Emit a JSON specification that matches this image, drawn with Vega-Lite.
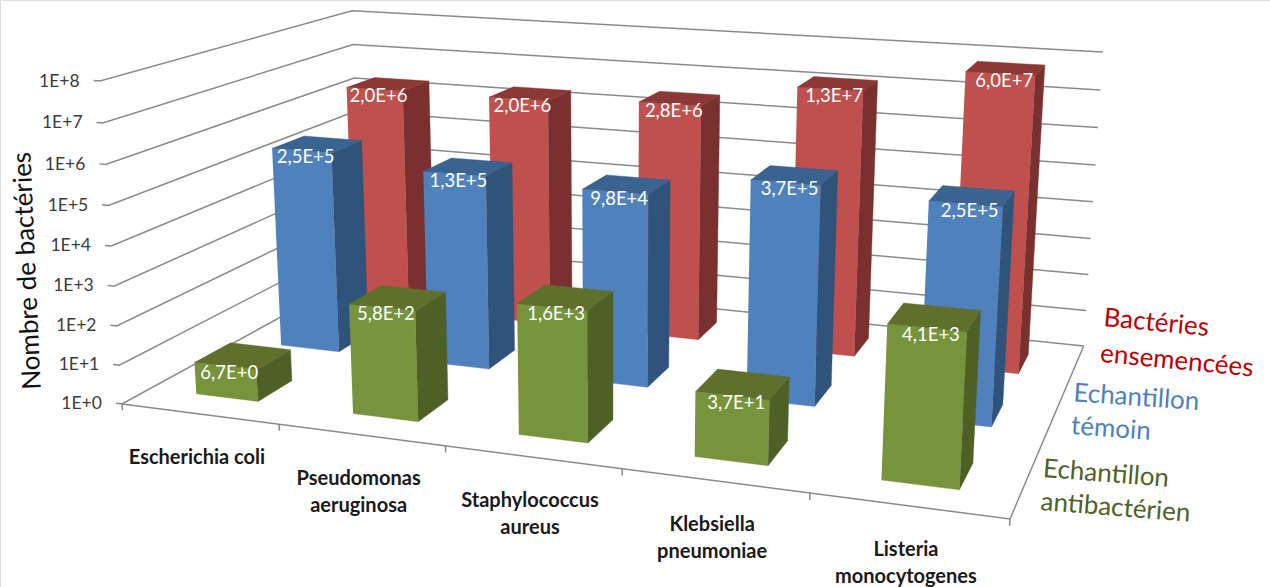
{
  "$schema": "https://vega.github.io/schema/vega-lite/v6.json",
  "width": 1270,
  "height": 587,
  "padding": 0,
  "autosize": {"type": "none"},
  "background": "white",
  "datasets": {
    "barres": [
      {"espece": "Escherichia coli", "serie": "Bactéries ensemencées", "valeur": 2.0e6, "etiquette": "2,0E+6"},
      {"espece": "Pseudomonas aeruginosa", "serie": "Bactéries ensemencées", "valeur": 2.0e6, "etiquette": "2,0E+6"},
      {"espece": "Staphylococcus aureus", "serie": "Bactéries ensemencées", "valeur": 2.8e6, "etiquette": "2,8E+6"},
      {"espece": "Klebsiella pneumoniae", "serie": "Bactéries ensemencées", "valeur": 1.3e7, "etiquette": "1,3E+7"},
      {"espece": "Listeria monocytogenes", "serie": "Bactéries ensemencées", "valeur": 6.0e7, "etiquette": "6,0E+7"},
      {"espece": "Escherichia coli", "serie": "Echantillon témoin", "valeur": 2.5e5, "etiquette": "2,5E+5"},
      {"espece": "Pseudomonas aeruginosa", "serie": "Echantillon témoin", "valeur": 1.3e5, "etiquette": "1,3E+5"},
      {"espece": "Staphylococcus aureus", "serie": "Echantillon témoin", "valeur": 9.8e4, "etiquette": "9,8E+4"},
      {"espece": "Klebsiella pneumoniae", "serie": "Echantillon témoin", "valeur": 3.7e5, "etiquette": "3,7E+5"},
      {"espece": "Listeria monocytogenes", "serie": "Echantillon témoin", "valeur": 2.5e5, "etiquette": "2,5E+5"},
      {"espece": "Escherichia coli", "serie": "Echantillon antibactérien", "valeur": 6.7e0, "etiquette": "6,7E+0"},
      {"espece": "Pseudomonas aeruginosa", "serie": "Echantillon antibactérien", "valeur": 5.8e2, "etiquette": "5,8E+2"},
      {"espece": "Staphylococcus aureus", "serie": "Echantillon antibactérien", "valeur": 1.6e3, "etiquette": "1,6E+3"},
      {"espece": "Klebsiella pneumoniae", "serie": "Echantillon antibactérien", "valeur": 3.7e1, "etiquette": "3,7E+1"},
      {"espece": "Listeria monocytogenes", "serie": "Echantillon antibactérien", "valeur": 4.1e3, "etiquette": "4,1E+3"}
    ],
    "decades": [
      {"decade": 0, "libelle": "1E+0"},
      {"decade": 1, "libelle": "1E+1"},
      {"decade": 2, "libelle": "1E+2"},
      {"decade": 3, "libelle": "1E+3"},
      {"decade": 4, "libelle": "1E+4"},
      {"decade": 5, "libelle": "1E+5"},
      {"decade": 6, "libelle": "1E+6"},
      {"decade": 7, "libelle": "1E+7"},
      {"decade": 8, "libelle": "1E+8"}
    ],
    "especes": [
      {"rang": 0, "libelle": "Escherichia coli"},
      {"rang": 1, "libelle": "Pseudomonas\naeruginosa"},
      {"rang": 2, "libelle": "Staphylococcus\naureus"},
      {"rang": 3, "libelle": "Klebsiella\npneumoniae"},
      {"rang": 4, "libelle": "Listeria\nmonocytogenes"}
    ],
    "graduations": [
      {"repere": 0}, {"repere": 1}, {"repere": 2}, {"repere": 3}, {"repere": 4}, {"repere": 5}
    ],
    "series": [
      {"serie": "Bactéries ensemencées", "rang": 2, "libelle": "Bactéries\nensemencées"},
      {"serie": "Echantillon témoin", "rang": 1, "libelle": "Echantillon\ntémoin"},
      {"serie": "Echantillon antibactérien", "rang": 0, "libelle": "Echantillon\nantibactérien"}
    ]
  },
  "encoding": {
    "x": {"field": "ex", "type": "quantitative", "scale": {"domain": [0, 1270], "nice": false, "zero": false}, "axis": null},
    "y": {
      "field": "ey",
      "type": "quantitative",
      "scale": {"domain": [587, 0], "nice": false, "zero": false},
      "title": "Nombre de bactéries",
      "axis": {
        "domain": false, "ticks": false, "labels": false, "grid": false,
        "titleFont": "Lato", "titleFontSize": 26, "titleFontWeight": "normal", "titleColor": "#111111",
        "titleX": 35, "titleY": 270, "titleAngle": 267.5, "titleAlign": "center", "titleBaseline": "alphabetic"
      }
    }
  },
  "layer": [
    {
      "description": "Quadrillage des parois : une polyligne par décade",
      "data": {"name": "decades"},
      "transform": [
        {"calculate": "datum.decade/8", "as": "h"},
        {"calculate": "[[0,-0.008,datum.h,0],[1,0,datum.h,0],[2,0,datum.h,1],[3,1,datum.h,1]]", "as": "sommets"},
        {"flatten": ["sommets"]},
        {"calculate": "datum.sommets[0]", "as": "n"},
        {"calculate": "datum.sommets[1]", "as": "X"},
        {"calculate": "datum.sommets[2]", "as": "Y"},
        {"calculate": "datum.sommets[3]", "as": "Z"},
        {"calculate": "(122+746.4*datum.X-26.3*datum.Y+326.7*datum.Z)/(1-0.1402*datum.X-0.0429*datum.Y+0.243*datum.Z)", "as": "ex"},
        {"calculate": "(404+42.2*datum.X-326.5*datum.Y-64.7*datum.Z)/(1-0.1402*datum.X-0.0429*datum.Y+0.243*datum.Z)", "as": "ey"}
      ],
      "mark": {"type": "line", "stroke": "#8a8a8a", "strokeWidth": 1.5},
      "encoding": {
        "detail": {"field": "decade", "type": "nominal"},
        "order": {"field": "n", "type": "quantitative"}
      }
    },
    {
      "description": "Bords avant et droit du sol",
      "data": {"values": [{"trait": "sol"}]},
      "transform": [
        {"calculate": "[[0,0,0,0],[1,1,0,0],[2,1,0,1]]", "as": "sommets"},
        {"flatten": ["sommets"]},
        {"calculate": "datum.sommets[0]", "as": "n"},
        {"calculate": "datum.sommets[1]", "as": "X"},
        {"calculate": "datum.sommets[2]", "as": "Y"},
        {"calculate": "datum.sommets[3]", "as": "Z"},
        {"calculate": "(122+746.4*datum.X-26.3*datum.Y+326.7*datum.Z)/(1-0.1402*datum.X-0.0429*datum.Y+0.243*datum.Z)", "as": "ex"},
        {"calculate": "(404+42.2*datum.X-326.5*datum.Y-64.7*datum.Z)/(1-0.1402*datum.X-0.0429*datum.Y+0.243*datum.Z)", "as": "ey"}
      ],
      "mark": {"type": "line", "stroke": "#8a8a8a", "strokeWidth": 1.5},
      "encoding": {"order": {"field": "n", "type": "quantitative"}}
    },
    {
      "description": "Graduations entre les espèces",
      "data": {"name": "graduations"},
      "transform": [
        {"calculate": "[[0,datum.repere/5,0,0],[1,datum.repere/5,-0.02,0]]", "as": "sommets"},
        {"flatten": ["sommets"]},
        {"calculate": "datum.sommets[0]", "as": "n"},
        {"calculate": "datum.sommets[1]", "as": "X"},
        {"calculate": "datum.sommets[2]", "as": "Y"},
        {"calculate": "datum.sommets[3]", "as": "Z"},
        {"calculate": "(122+746.4*datum.X-26.3*datum.Y+326.7*datum.Z)/(1-0.1402*datum.X-0.0429*datum.Y+0.243*datum.Z)", "as": "ex"},
        {"calculate": "(404+42.2*datum.X-326.5*datum.Y-64.7*datum.Z)/(1-0.1402*datum.X-0.0429*datum.Y+0.243*datum.Z)", "as": "ey"}
      ],
      "mark": {"type": "line", "stroke": "#8a8a8a", "strokeWidth": 1.5},
      "encoding": {
        "detail": {"field": "repere", "type": "nominal"},
        "order": {"field": "n", "type": "quantitative"}
      }
    },
    {
      "description": "Barres : trois faces visibles, de la rangée du fond vers l'avant",
      "data": {"name": "barres"},
      "transform": [
        {"calculate": "indexof(['Escherichia coli','Pseudomonas aeruginosa','Staphylococcus aureus','Klebsiella pneumoniae','Listeria monocytogenes'],datum.espece)", "as": "rang"},
        {"calculate": "indexof(['Echantillon antibactérien','Echantillon témoin','Bactéries ensemencées'],datum.serie)", "as": "profondeur"},
        {"calculate": "(datum.rang+0.3)/5", "as": "x0"},
        {"calculate": "(datum.rang+0.7)/5", "as": "x1"},
        {"calculate": "(datum.profondeur+0.3)/3", "as": "z0"},
        {"calculate": "(datum.profondeur+0.7)/3", "as": "z1"},
        {"calculate": "log(datum.valeur)/LN10/8", "as": "h"},
        {"calculate": "[['1 avant',0,datum.x0,0,datum.z0],['1 avant',1,datum.x1,0,datum.z0],['1 avant',2,datum.x1,datum.h,datum.z0],['1 avant',3,datum.x0,datum.h,datum.z0],['2 cote',0,datum.x1,0,datum.z0],['2 cote',1,datum.x1,0,datum.z1],['2 cote',2,datum.x1,datum.h,datum.z1],['2 cote',3,datum.x1,datum.h,datum.z0],['3 dessus',0,datum.x0,datum.h,datum.z0],['3 dessus',1,datum.x1,datum.h,datum.z0],['3 dessus',2,datum.x1,datum.h,datum.z1],['3 dessus',3,datum.x0,datum.h,datum.z1]]", "as": "sommets"},
        {"flatten": ["sommets"]},
        {"calculate": "datum.sommets[0]", "as": "face"},
        {"calculate": "datum.sommets[1]", "as": "n"},
        {"calculate": "datum.sommets[2]", "as": "X"},
        {"calculate": "datum.sommets[3]", "as": "Y"},
        {"calculate": "datum.sommets[4]", "as": "Z"},
        {"calculate": "datum.serie+' | '+datum.face", "as": "teinte"},
        {"calculate": "(122+746.4*datum.X-26.3*datum.Y+326.7*datum.Z)/(1-0.1402*datum.X-0.0429*datum.Y+0.243*datum.Z)", "as": "ex"},
        {"calculate": "(404+42.2*datum.X-326.5*datum.Y-64.7*datum.Z)/(1-0.1402*datum.X-0.0429*datum.Y+0.243*datum.Z)", "as": "ey"}
      ],
      "mark": {"type": "line", "strokeWidth": 0.4},
      "encoding": {
        "detail": {"field": "espece", "type": "nominal"},
        "order": {"field": "n", "type": "quantitative"},
        "fill": {
          "field": "teinte",
          "type": "nominal",
          "legend": null,
          "scale": {
            "domain": [
              "Bactéries ensemencées | 1 avant", "Bactéries ensemencées | 2 cote", "Bactéries ensemencées | 3 dessus",
              "Echantillon témoin | 1 avant", "Echantillon témoin | 2 cote", "Echantillon témoin | 3 dessus",
              "Echantillon antibactérien | 1 avant", "Echantillon antibactérien | 2 cote", "Echantillon antibactérien | 3 dessus"
            ],
            "range": ["#C0504D", "#7A302E", "#8C3836", "#4F81BD", "#30537B", "#3B6390", "#77933C", "#4E6026", "#5E702C"]
          }
        },
        "stroke": {
          "field": "teinte",
          "type": "nominal",
          "legend": null,
          "scale": {
            "domain": [
              "Bactéries ensemencées | 1 avant", "Bactéries ensemencées | 2 cote", "Bactéries ensemencées | 3 dessus",
              "Echantillon témoin | 1 avant", "Echantillon témoin | 2 cote", "Echantillon témoin | 3 dessus",
              "Echantillon antibactérien | 1 avant", "Echantillon antibactérien | 2 cote", "Echantillon antibactérien | 3 dessus"
            ],
            "range": ["#C0504D", "#7A302E", "#8C3836", "#4F81BD", "#30537B", "#3B6390", "#77933C", "#4E6026", "#5E702C"]
          }
        }
      }
    },
    {
      "description": "Valeurs inscrites en haut de la face avant",
      "data": {"name": "barres"},
      "transform": [
        {"calculate": "indexof(['Escherichia coli','Pseudomonas aeruginosa','Staphylococcus aureus','Klebsiella pneumoniae','Listeria monocytogenes'],datum.espece)", "as": "rang"},
        {"calculate": "indexof(['Echantillon antibactérien','Echantillon témoin','Bactéries ensemencées'],datum.serie)", "as": "profondeur"},
        {"calculate": "(datum.rang+0.5)/5", "as": "X"},
        {"calculate": "log(datum.valeur)/LN10/8", "as": "Y"},
        {"calculate": "(datum.profondeur+0.3)/3", "as": "Z"},
        {"calculate": "(122+746.4*datum.X-26.3*datum.Y+326.7*datum.Z)/(1-0.1402*datum.X-0.0429*datum.Y+0.243*datum.Z)", "as": "ex"},
        {"calculate": "(404+42.2*datum.X-326.5*datum.Y-64.7*datum.Z)/(1-0.1402*datum.X-0.0429*datum.Y+0.243*datum.Z)", "as": "ey"}
      ],
      "mark": {"type": "text", "font": "Lato", "fontSize": 18.5, "color": "white", "align": "center", "baseline": "middle", "dx": 4, "dy": 7},
      "encoding": {"text": {"field": "etiquette", "type": "nominal"}}
    },
    {
      "description": "Libellés de l'axe des valeurs",
      "data": {"name": "decades"},
      "transform": [
        {"calculate": "-0.008", "as": "X"},
        {"calculate": "datum.decade/8", "as": "Y"},
        {"calculate": "0", "as": "Z"},
        {"calculate": "(122+746.4*datum.X-26.3*datum.Y+326.7*datum.Z)/(1-0.1402*datum.X-0.0429*datum.Y+0.243*datum.Z)", "as": "ex"},
        {"calculate": "(404+42.2*datum.X-326.5*datum.Y-64.7*datum.Z)/(1-0.1402*datum.X-0.0429*datum.Y+0.243*datum.Z)", "as": "ey"}
      ],
      "mark": {"type": "text", "font": "Lato", "fontSize": 17.5, "color": "#3c3c3c", "align": "right", "baseline": "middle", "dx": -14, "dy": 1},
      "encoding": {"text": {"field": "libelle", "type": "nominal"}}
    },
    {
      "description": "Noms des espèces sous le bord avant",
      "data": {"name": "especes"},
      "transform": [
        {"calculate": "(datum.rang+0.5)/5", "as": "X"},
        {"calculate": "0", "as": "Y"},
        {"calculate": "0", "as": "Z"},
        {"calculate": "(122+746.4*datum.X-26.3*datum.Y+326.7*datum.Z)/(1-0.1402*datum.X-0.0429*datum.Y+0.243*datum.Z)", "as": "ex"},
        {"calculate": "(404+42.2*datum.X-326.5*datum.Y-64.7*datum.Z)/(1-0.1402*datum.X-0.0429*datum.Y+0.243*datum.Z)", "as": "ey"}
      ],
      "mark": {"type": "text", "font": "Lato", "fontSize": 20, "fontWeight": "bold", "color": "#1a1a1a", "align": "center", "baseline": "alphabetic", "lineBreak": "\n", "lineHeight": 27, "dx": -2.5, "dy": 50},
      "encoding": {"text": {"field": "libelle", "type": "nominal"}}
    },
    {
      "description": "Nom de la rangée du fond",
      "data": {"name": "series"},
      "transform": [
        {"filter": "datum.rang === 2"},
        {"calculate": "1", "as": "X"},
        {"calculate": "0", "as": "Y"},
        {"calculate": "(datum.rang+0.5)/3", "as": "Z"},
        {"calculate": "(122+746.4*datum.X-26.3*datum.Y+326.7*datum.Z)/(1-0.1402*datum.X-0.0429*datum.Y+0.243*datum.Z)", "as": "ex"},
        {"calculate": "(404+42.2*datum.X-326.5*datum.Y-64.7*datum.Z)/(1-0.1402*datum.X-0.0429*datum.Y+0.243*datum.Z)", "as": "ey"}
      ],
      "mark": {"type": "text", "font": "Lato", "fontSize": 26, "color": "#C00000", "align": "left", "baseline": "alphabetic", "lineBreak": "\n", "lineHeight": 36, "angle": 5.5, "dx": 25, "dy": -46},
      "encoding": {"text": {"field": "libelle", "type": "nominal"}}
    },
    {
      "description": "Nom de la rangée du milieu",
      "data": {"name": "series"},
      "transform": [
        {"filter": "datum.rang === 1"},
        {"calculate": "1", "as": "X"},
        {"calculate": "0", "as": "Y"},
        {"calculate": "(datum.rang+0.5)/3", "as": "Z"},
        {"calculate": "(122+746.4*datum.X-26.3*datum.Y+326.7*datum.Z)/(1-0.1402*datum.X-0.0429*datum.Y+0.243*datum.Z)", "as": "ex"},
        {"calculate": "(404+42.2*datum.X-326.5*datum.Y-64.7*datum.Z)/(1-0.1402*datum.X-0.0429*datum.Y+0.243*datum.Z)", "as": "ey"}
      ],
      "mark": {"type": "text", "font": "Lato", "fontSize": 26, "color": "#4F81BD", "align": "left", "baseline": "alphabetic", "lineBreak": "\n", "lineHeight": 33, "angle": 4, "dx": 20, "dy": -22},
      "encoding": {"text": {"field": "libelle", "type": "nominal"}}
    },
    {
      "description": "Nom de la rangée de devant",
      "data": {"name": "series"},
      "transform": [
        {"filter": "datum.rang === 0"},
        {"calculate": "1", "as": "X"},
        {"calculate": "0", "as": "Y"},
        {"calculate": "(datum.rang+0.5)/3", "as": "Z"},
        {"calculate": "(122+746.4*datum.X-26.3*datum.Y+326.7*datum.Z)/(1-0.1402*datum.X-0.0429*datum.Y+0.243*datum.Z)", "as": "ex"},
        {"calculate": "(404+42.2*datum.X-326.5*datum.Y-64.7*datum.Z)/(1-0.1402*datum.X-0.0429*datum.Y+0.243*datum.Z)", "as": "ey"}
      ],
      "mark": {"type": "text", "font": "Lato", "fontSize": 26, "color": "#4F6228", "align": "left", "baseline": "alphabetic", "lineBreak": "\n", "lineHeight": 33, "angle": 4.5, "dx": 17, "dy": -8},
      "encoding": {"text": {"field": "libelle", "type": "nominal"}}
    }
  ]
}
